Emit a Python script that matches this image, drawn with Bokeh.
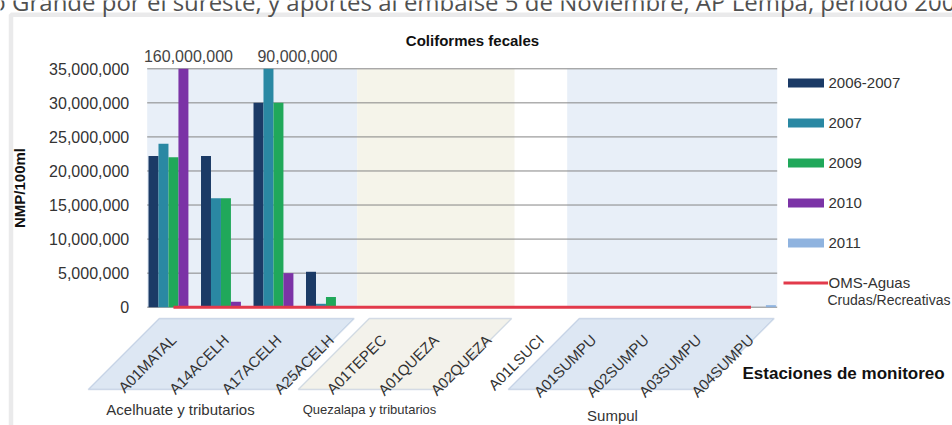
import math
from bokeh.plotting import figure
from bokeh.models import (Range1d, NumeralTickFormatter, FixedTicker, CustomJSTickFormatter,
                          Legend, LegendItem, Label, PolyAnnotation)
from bokeh.embed import file_html
from bokeh.resources import INLINE

# ---------------- data ----------------
stations = ["A01MATAL", "A14ACELH", "A17ACELH", "A25ACELH", "A01TEPEC", "A01QUEZA",
            "A02QUEZA", "A01LSUCI", "A01SUMPU", "A02SUMPU", "A03SUMPU", "A04SUMPU"]
s_2006_2007 = [22200000, 22200000, 30000000, 5200000, 0, 0, 0, 0, 0, 0, 0, 0]
s_2007 = [24000000, 16000000, 90000000, 500000, 0, 0, 0, 0, 0, 0, 0, 0]
s_2009 = [22000000, 16000000, 30000000, 1500000, 0, 0, 0, 0, 0, 0, 0, 0]
s_2010 = [160000000, 800000, 5000000, 0, 0, 0, 0, 0, 0, 0, 0, 0]
s_2011 = [0, 0, 0, 0, 0, 0, 0, 0, 0, 0, 0, 300000]
oms = [1000, 1000, 1000, 1000, 1000, 1000, 1000, 1000, 1000, 1000, 1000, 1000]
series_names = ["2006-2007", "2007", "2009", "2010", "2011"]
y_ticks = [0, 5000000, 10000000, 15000000, 20000000, 25000000, 30000000, 35000000]
y_max = 35000000
clipped_labels = [("A01MATAL", "160,000,000"), ("A17ACELH", "90,000,000")]
groups = [("Acelhuate y tributarios", 0, 3), ("Quezalapa y tributarios", 4, 6),
          ("Sumpul", 8, 11)]
caption = "río Grande por el sureste, y aportes al embalse 5 de Noviembre, AP Lempa, período 2006-2011"

# ---------------- styling / layout ----------------
FONT = "Liberation Sans"
colors = ["#1b3a66", "#2a88a3", "#20a85a", "#7b33a6", "#8fb3df"]
W, H = 952, 425
PL, PR, PT, PB = 146.7, 776.7, 68.3, 306.7   # plot area on the page
N = len(stations)
CW = (PR - PL) / N                           # px per category
KY = y_max / (PB - PT)                       # data units per px (y)

x_range = Range1d(-PL / CW, N + (W - PR) / CW)
y_range = Range1d(-(H - PB) * KY, y_max + PT * KY)

p = figure(width=W, height=H, x_range=x_range, y_range=y_range, title=None,
           output_backend="svg", toolbar_location=None,
           min_border_left=0, min_border_right=0, min_border_top=0, min_border_bottom=0)
p.outline_line_color = None
p.background_fill_color = "white"
p.xgrid.visible = False
p.ygrid.visible = False

xc = [i + 0.5 for i in range(N)]             # category centres (axis positions)

# background bands per group of stations
band_left, band_right, band_col = [], [], []
band_defs = [(0, 3, "#e8eff8"), (4, 6, "#f5f4ea"), (7, 7, "#ffffff"), (8, 11, "#e8eff8")]
for a, b, c in band_defs:
    band_left.append(a)
    band_right.append(b + 1)
    band_col.append(c)
p.quad(left=band_left, right=band_right, bottom=0, top=y_max, fill_color=band_col,
       line_color=None)

# horizontal gridlines over the plot area
p.segment(x0=0, x1=N, y0=y_ticks, y1=y_ticks, line_color="#858585", line_width=1)

series = [s_2006_2007, s_2007, s_2009, s_2010, s_2011]
offsets = [-0.38, -0.19, 0.0, 0.19, 0.38]
renderers = []
for n, s, c, off in zip(series_names, series, colors, offsets):
    shown = [min(v, y_max) for v in s]       # bars are cut at the axis maximum
    r = p.vbar(x=[x + off for x in xc], top=shown, width=0.19, fill_color=c,
               line_color=None)
    renderers.append(r)
rl = p.line(x=xc, y=oms, line_color="#e23a4b", line_width=3)

# axes (fixed inside the frame, so they take no border space)
p.yaxis.fixed_location = 0
p.yaxis.bounds = (0, y_max)
p.yaxis.ticker = FixedTicker(ticks=y_ticks)
p.yaxis.formatter = NumeralTickFormatter(format="0,0")
p.yaxis.axis_line_color = None
p.yaxis.major_tick_line_color = None
p.yaxis.minor_tick_line_color = None
p.yaxis.major_tick_out = 0
p.yaxis.major_tick_in = 0
p.yaxis.major_label_text_font = FONT
p.yaxis.major_label_text_font_size = "16px"
p.yaxis.major_label_text_color = "#333333"
p.yaxis.major_label_standoff = 18
p.yaxis.axis_label = "NMP/100ml"
p.yaxis.axis_label_text_font = FONT
p.yaxis.axis_label_text_font_style = "bold"
p.yaxis.axis_label_text_font_size = "15px"
p.yaxis.axis_label_text_color = "#111111"
p.yaxis.axis_label_standoff = 18

p.xaxis.fixed_location = 0
p.xaxis.bounds = (0, N)
p.xaxis.ticker = FixedTicker(ticks=xc)
p.xaxis.formatter = CustomJSTickFormatter(args=dict(names=stations),
                                          code="return names[Math.round(tick - 0.5)]")
p.xaxis.major_label_orientation = math.pi / 4
p.xaxis.axis_line_color = None
p.xaxis.major_tick_line_color = None
p.xaxis.minor_tick_line_color = None
p.xaxis.major_tick_out = 0
p.xaxis.major_tick_in = 0
p.xaxis.major_label_text_font = FONT
p.xaxis.major_label_text_font_size = "15px"
p.xaxis.major_label_text_color = "#333333"
p.xaxis.major_label_standoff = 30


# helpers: page coords -> screen units (frame == canvas, origin bottom-left, y up)
def sx(X):
    return X


def sy(Y):
    return H - Y


def add_text(text, X, Y, size="15px", bold=False, align="center", color="#333333",
             font=FONT, baseline="middle"):
    p.add_layout(Label(x=sx(X), y=sy(Y), x_units="screen", y_units="screen", text=text,
                       text_font=font, text_font_size=size, text_align=align,
                       text_baseline=baseline, text_color=color,
                       text_font_style="bold" if bold else "normal"))


# legend (bottom-left corner given in screen px)
items = [LegendItem(label=n, renderers=[r]) for n, r in zip(series_names, renderers)]
items.append(LegendItem(label="OMS-Aguas", renderers=[rl]))
legend = Legend(items=items, location=(sx(782.5), sy(72.7 + 220)), glyph_width=45,
                glyph_height=11, label_height=20, spacing=20, padding=0, margin=0,
                label_standoff=1, border_line_color=None, background_fill_alpha=0,
                label_text_font=FONT, label_text_font_size="15px",
                label_text_color="#333333")
p.add_layout(legend)

# chart box border
p.add_layout(PolyAnnotation(xs=[sx(10.5), sx(10.5), sx(1200), sx(1200)],
                            ys=[sy(900), sy(14.2), sy(14.2), sy(900)],
                            xs_units="screen", ys_units="screen",
                            fill_alpha=0, line_color="#b8b9bd", line_width=4.5))

# group parallelograms under the station labels
grp_fill = ["#dde7f3", "#f3f2eb", "#dde7f3"]
for (name, a, b), gf in zip(groups, grp_fill):
    xl = PL + a * CW + 12
    xr = PL + (b + 1) * CW - 3
    yt, yb, d = 318, 389, 71
    p.add_layout(PolyAnnotation(xs=[sx(xl), sx(xr), sx(xr - d), sx(xl - d)],
                                ys=[sy(yt), sy(yt), sy(yb), sy(yb)],
                                xs_units="screen", ys_units="screen",
                                fill_color=gf, fill_alpha=1, line_color="#7e99c0",
                                line_width=1.5, level="underlay"))

# values above the axis maximum
for (st, txt), xo in zip(clipped_labels, [15, 19]):
    p.add_layout(Label(x=stations.index(st) + 0.5, y=y_max, x_offset=xo, y_offset=13,
                       text=txt, text_font=FONT, text_font_size="16px",
                       text_align="center", text_baseline="middle",
                       text_color="#444444"))

# caption line of the page, cut by the top edge as in the source
add_text(caption, -25, 1, size="24px", align="left", color="#505050",
         font="Open Sans", baseline="alphabetic")
add_text("Coliformes fecales", 472, 40, size="15px", bold=True, color="#111111")
add_text("Acelhuate y tributarios", 180, 409, size="15px")
add_text("Quezalapa y tributarios", 369, 409, size="13px")
add_text("Sumpul", 612, 415, size="15px")
add_text("Estaciones de monitoreo", 742, 373, size="17px", bold=True, align="left",
         color="#111111")
add_text("Crudas/Recreativas", 827, 299, size="14px", align="left")

open("out.html", "w").write(file_html(p, INLINE))
